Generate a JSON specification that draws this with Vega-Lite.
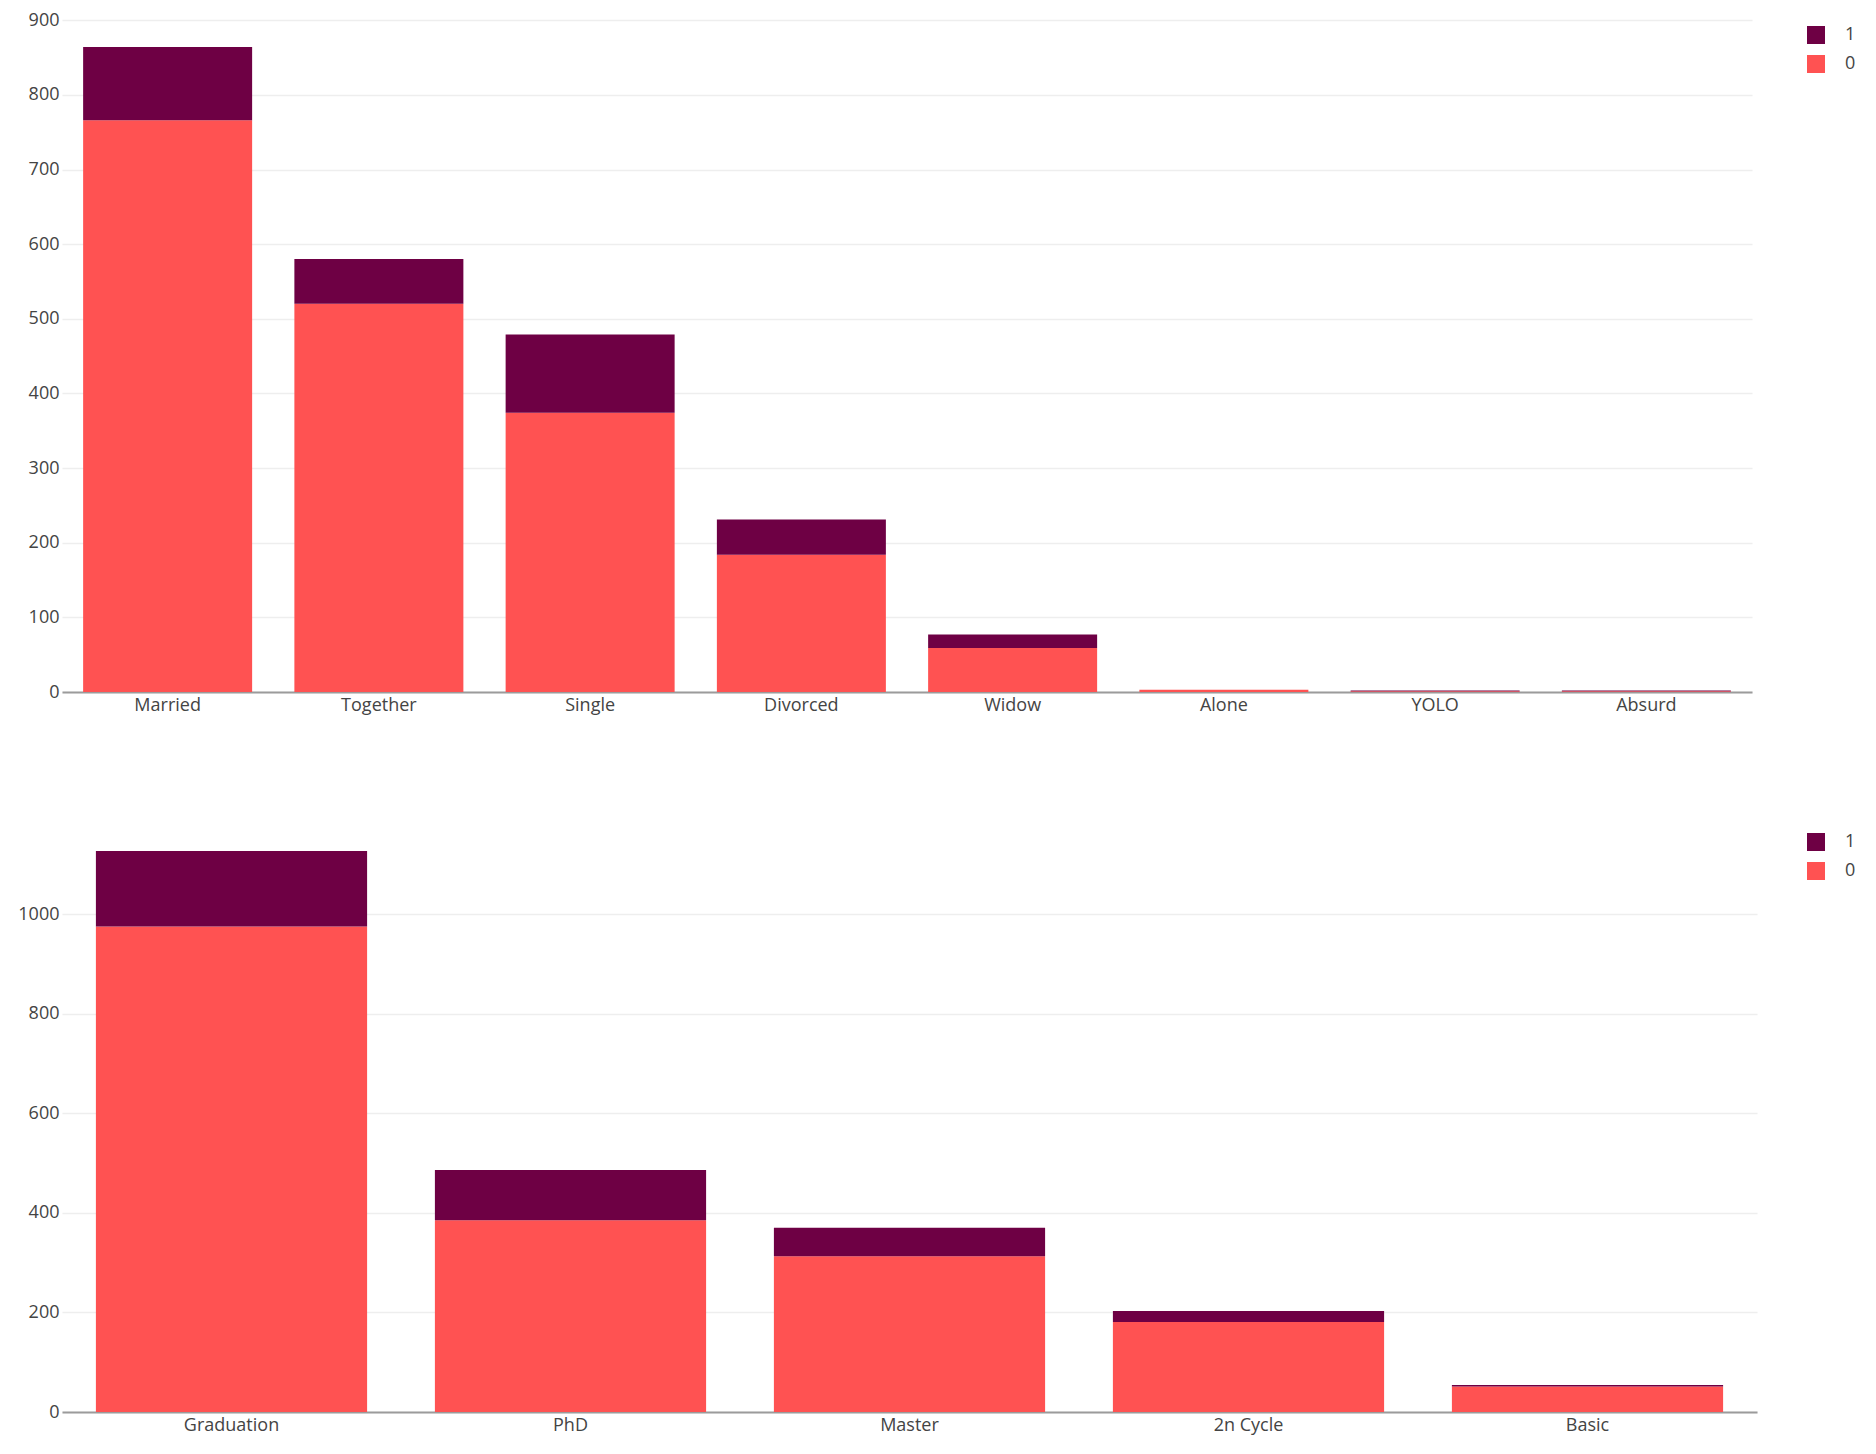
{
  "$schema": "https://vega.github.io/schema/vega-lite/v6.json",
  "padding": {"left": 0, "top": 11, "right": 0, "bottom": 0},
  "background": "white",
  "columns": 1,
  "align": "none",
  "config": {
    "view": {"stroke": null},
    "font": "Open Sans",
    "axis": {"labelFont": "Open Sans", "labelFontSize": 18, "labelColor": "#444444", "ticks": false, "title": null},
    "legend": {"labelFont": "Open Sans", "labelFontSize": 18, "labelColor": "#444444"}
  },
  "datasets": {
    "marital": [
      {"cat": "Married", "Response": 0, "count": 766},
      {"cat": "Married", "Response": 1, "count": 98},
      {"cat": "Together", "Response": 0, "count": 520},
      {"cat": "Together", "Response": 1, "count": 60},
      {"cat": "Single", "Response": 0, "count": 374},
      {"cat": "Single", "Response": 1, "count": 105},
      {"cat": "Divorced", "Response": 0, "count": 184},
      {"cat": "Divorced", "Response": 1, "count": 47},
      {"cat": "Widow", "Response": 0, "count": 59},
      {"cat": "Widow", "Response": 1, "count": 18},
      {"cat": "Alone", "Response": 0, "count": 3},
      {"cat": "YOLO", "Response": 0, "count": 1},
      {"cat": "YOLO", "Response": 1, "count": 1},
      {"cat": "Absurd", "Response": 0, "count": 1},
      {"cat": "Absurd", "Response": 1, "count": 1}
    ],
    "education": [
      {"cat": "Graduation", "Response": 0, "count": 975},
      {"cat": "Graduation", "Response": 1, "count": 152},
      {"cat": "PhD", "Response": 0, "count": 385},
      {"cat": "PhD", "Response": 1, "count": 101},
      {"cat": "Master", "Response": 0, "count": 313},
      {"cat": "Master", "Response": 1, "count": 57},
      {"cat": "2n Cycle", "Response": 0, "count": 181},
      {"cat": "2n Cycle", "Response": 1, "count": 22},
      {"cat": "Basic", "Response": 0, "count": 51},
      {"cat": "Basic", "Response": 1, "count": 3}
    ]
  },
  "spacing": 101,
  "resolve": {"scale": {"color": "independent", "x": "independent", "y": "independent"}, "legend": {"color": "independent"}},
  "concat": [
    {
      "width": 1690,
      "height": 677,
      "data": {"name": "marital"},
      "mark": {"type": "bar"},
      "encoding": {
        "x": {
          "field": "cat", "type": "nominal",
          "sort": ["Married", "Together", "Single", "Divorced", "Widow", "Alone", "YOLO", "Absurd"],
          "scale": {"paddingInner": 0.2, "paddingOuter": 0.1},
          "axis": {"labelAngle": 0, "domainColor": "#9b9b9b", "domainWidth": 2, "labelPadding": 4, "minExtent": 30, "maxExtent": 30, "grid": false}
        },
        "y": {
          "field": "count", "type": "quantitative", "aggregate": "sum", "stack": "zero",
          "scale": {"domain": [0, 907], "nice": false, "zero": true},
          "axis": {"values": [0, 100, 200, 300, 400, 500, 600, 700, 800, 900], "format": "d", "domain": false, "grid": true, "gridColor": "#eeeeee", "gridWidth": 1.5, "labelPadding": 3, "minExtent": 62, "maxExtent": 62}
        },
        "color": {
          "field": "Response", "type": "nominal",
          "scale": {"domain": [1, 0], "range": ["#6e0044", "#ff5252"]},
          "legend": {"title": null, "orient": "none", "legendX": 1745, "legendY": 11, "symbolType": "square", "symbolSize": 324, "symbolStrokeWidth": 0, "symbolOpacity": 1, "rowPadding": 11, "labelOffset": 20, "padding": 0}
        },
        "order": {"field": "Response", "type": "quantitative", "sort": "ascending"}
      }
    },
    {
      "width": 1695,
      "height": 589,
      "data": {"name": "education"},
      "mark": {"type": "bar"},
      "encoding": {
        "x": {
          "field": "cat", "type": "nominal",
          "sort": ["Graduation", "PhD", "Master", "2n Cycle", "Basic"],
          "scale": {"paddingInner": 0.2, "paddingOuter": 0.1},
          "axis": {"labelAngle": 0, "domainColor": "#9b9b9b", "domainWidth": 2, "labelPadding": 4, "minExtent": 30, "maxExtent": 30, "grid": false}
        },
        "y": {
          "field": "count", "type": "quantitative", "aggregate": "sum", "stack": "zero",
          "scale": {"domain": [0, 1183], "nice": false, "zero": true},
          "axis": {"values": [0, 200, 400, 600, 800, 1000], "format": "d", "domain": false, "grid": true, "gridColor": "#eeeeee", "gridWidth": 1.5, "labelPadding": 3, "minExtent": 58, "maxExtent": 58}
        },
        "color": {
          "field": "Response", "type": "nominal",
          "scale": {"domain": [1, 0], "range": ["#6e0044", "#ff5252"]},
          "legend": {"title": null, "orient": "none", "legendX": 1745, "legendY": 10, "symbolType": "square", "symbolSize": 324, "symbolStrokeWidth": 0, "symbolOpacity": 1, "rowPadding": 11, "labelOffset": 20, "padding": 0}
        },
        "order": {"field": "Response", "type": "quantitative", "sort": "ascending"}
      }
    }
  ]
}
